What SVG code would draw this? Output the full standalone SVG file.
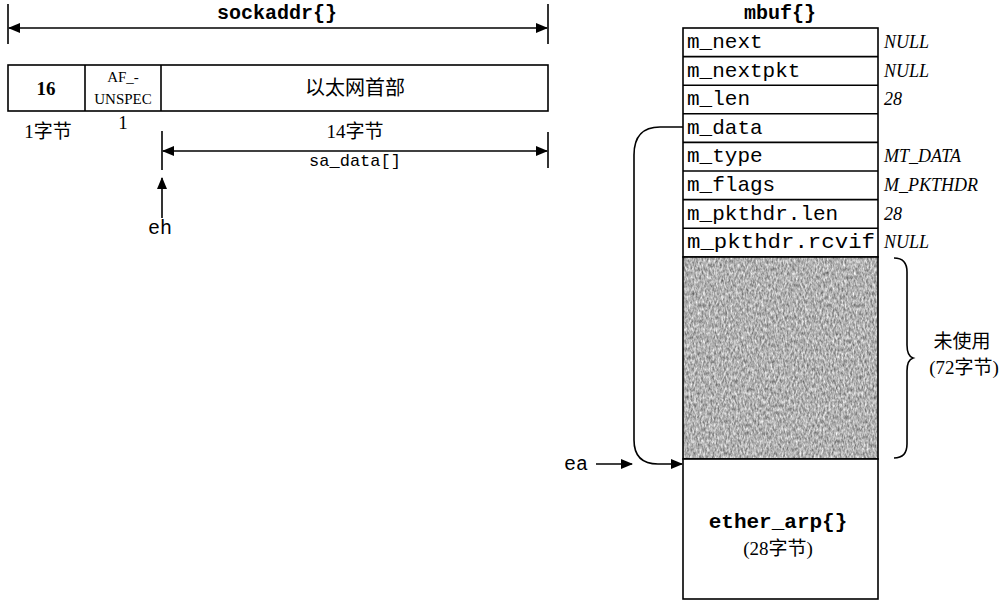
<svg xmlns="http://www.w3.org/2000/svg" width="1008" height="601" viewBox="0 0 1008 601">
<style>
  .ln{stroke:#000;stroke-width:1.6;fill:none}
  .box{stroke:#000;stroke-width:1.6;fill:#fff}
  .mono{font-family:"Liberation Mono","DejaVu Sans Mono",monospace;fill:#000}
  .monob{font-family:"Liberation Mono","DejaVu Sans Mono",monospace;font-weight:bold;fill:#000}
  .ser{font-family:"Liberation Serif","Noto Sans CJK SC",serif;fill:#000}
  .it{font-family:"Liberation Serif",serif;font-style:italic;fill:#000;font-size:18px}
  .cjk{font-family:"Noto Sans CJK SC",sans-serif;fill:#000}
  .row{font-size:21px}
</style>
<defs>
  <marker id="ah" markerWidth="12" markerHeight="10" refX="11" refY="5" orient="auto" markerUnits="userSpaceOnUse">
    <path d="M0,0 L12,5 L0,10 Z" fill="#000"/>
  </marker>
  <marker id="ahs" markerWidth="12" markerHeight="10" refX="1" refY="5" orient="auto" markerUnits="userSpaceOnUse">
    <path d="M12,0 L0,5 L12,10 Z" fill="#000"/>
  </marker>
  <filter id="grain" x="0" y="0" width="100%" height="100%" color-interpolation-filters="sRGB">
    <feTurbulence type="fractalNoise" baseFrequency="0.55 0.25" numOctaves="3" seed="7" result="n"/>
    <feColorMatrix in="n" type="matrix" values="0.75 0 0 0 0.32  0.75 0 0 0 0.32  0.75 0 0 0 0.32  0 0 0 0 1" result="g"/>
    <feComposite in="g" in2="SourceGraphic" operator="in"/>
  </filter>
</defs>

<g id="sockaddr-dim">
  <line class="ln" x1="8" y1="4" x2="8" y2="44"/>
  <line class="ln" x1="548" y1="4" x2="548" y2="44"/>
  <text class="monob" x="277" y="19" font-size="20" text-anchor="middle">sockaddr{}</text>
</g>

<g id="sockaddr">
  <rect class="box" x="8" y="65" width="540" height="46"/>
  <line class="ln" x1="85" y1="65" x2="85" y2="111"/>
  <line class="ln" x1="161" y1="65" x2="161" y2="111"/>
  <text class="ser" x="46" y="95" font-size="19" font-weight="bold" text-anchor="middle">16</text>
  <text class="ser" x="123" y="82" font-size="15" text-anchor="middle">AF_-</text>
  <text class="ser" x="123" y="104" font-size="15" text-anchor="middle">UNSPEC</text>
  <text class="cjk" x="355" y="95" font-size="20" text-anchor="middle">以太网首部</text>
  <text class="ser" x="48" y="138" font-size="19" text-anchor="middle">1字节</text>
  <text class="ser" x="123" y="129" font-size="19" text-anchor="middle">1</text>
  <text class="ser" x="355" y="138" font-size="19" text-anchor="middle">14字节</text>
</g>

<g id="sa_data">
  <line class="ln" x1="162" y1="131" x2="162" y2="170"/>
  <line class="ln" x1="548" y1="132" x2="548" y2="168"/>
  <text class="mono" x="355" y="166" font-size="17" text-anchor="middle">sa_data[]</text>
</g>

<g id="eh">
  <text class="mono" x="160" y="234" font-size="20" text-anchor="middle">eh</text>
</g>

<g id="ea">
  <text class="mono" x="576" y="470" font-size="20" text-anchor="middle">ea</text>
</g>

<g id="mbuf">
  <text class="monob" x="780" y="19" font-size="20" text-anchor="middle">mbuf{}</text>
  <rect class="box" x="683" y="28" width="195" height="229"/>
  <line class="ln" x1="683" y1="56.6" x2="878" y2="56.6"/>
  <line class="ln" x1="683" y1="85.2" x2="878" y2="85.2"/>
  <line class="ln" x1="683" y1="113.8" x2="878" y2="113.8"/>
  <line class="ln" x1="683" y1="142.4" x2="878" y2="142.4"/>
  <line class="ln" x1="683" y1="171" x2="878" y2="171"/>
  <line class="ln" x1="683" y1="199.6" x2="878" y2="199.6"/>
  <line class="ln" x1="683" y1="228.2" x2="878" y2="228.2"/>
  <text class="mono row" x="687" y="48">m_next</text>
  <text class="mono row" x="687" y="76.6">m_nextpkt</text>
  <text class="mono row" x="687" y="105.2">m_len</text>
  <text class="mono row" x="687" y="133.8">m_data</text>
  <text class="mono row" x="687" y="162.4">m_type</text>
  <text class="mono row" x="687" y="191">m_flags</text>
  <text class="mono row" x="687" y="219.6">m_pkthdr.len</text>
  <text class="mono row" x="687" y="248.2" textLength="188" lengthAdjust="spacingAndGlyphs">m_pkthdr.rcvif</text>
  <text class="it" x="884" y="48">NULL</text>
  <text class="it" x="884" y="76.6">NULL</text>
  <text class="it" x="884" y="105.2">28</text>
  <text class="it" x="884" y="162.4">MT_DATA</text>
  <text class="it" x="884" y="191">M_PKTHDR</text>
  <text class="it" x="884" y="219.6">28</text>
  <text class="it" x="884" y="248.2">NULL</text>
</g>

<g id="unused">
  <rect x="683" y="257" width="195" height="202" fill="#a9a9a9" filter="url(#grain)"/>
  <rect class="ln" x="683" y="257" width="195" height="202"/>
  <path class="ln" d="M894,258 Q907,258 907,272 L907,345 Q907,356 913,358 Q907,360 907,371 L907,444 Q907,458 894,458"/>
  <text class="cjk" x="962" y="348" font-size="19" text-anchor="middle">未使用</text>
  <text class="ser" x="964" y="374" font-size="19" text-anchor="middle">(72字节)</text>
</g>

<g id="ether_arp">
  <rect class="box" x="683" y="459" width="195" height="140"/>
  <text class="monob" x="778" y="528" font-size="21" text-anchor="middle">ether_arp{}</text>
  <text class="ser" x="778" y="555" font-size="19" text-anchor="middle">(28字节)</text>
</g>

<g id="connectors">
  <line class="ln" x1="9" y1="28" x2="547" y2="28" marker-start="url(#ahs)" marker-end="url(#ah)"/>
  <line class="ln" x1="163" y1="151" x2="547" y2="151" marker-start="url(#ahs)" marker-end="url(#ah)"/>
  <line class="ln" x1="162" y1="218" x2="162" y2="178" marker-end="url(#ah)"/>
  <line class="ln" x1="596" y1="464" x2="632" y2="464" marker-end="url(#ah)"/>
  <path class="ln" d="M683,127 L660,127 Q634,127 634,155 L634,440 Q634,464 658,464 L682,464" marker-end="url(#ah)"/>
</g>
</svg>
